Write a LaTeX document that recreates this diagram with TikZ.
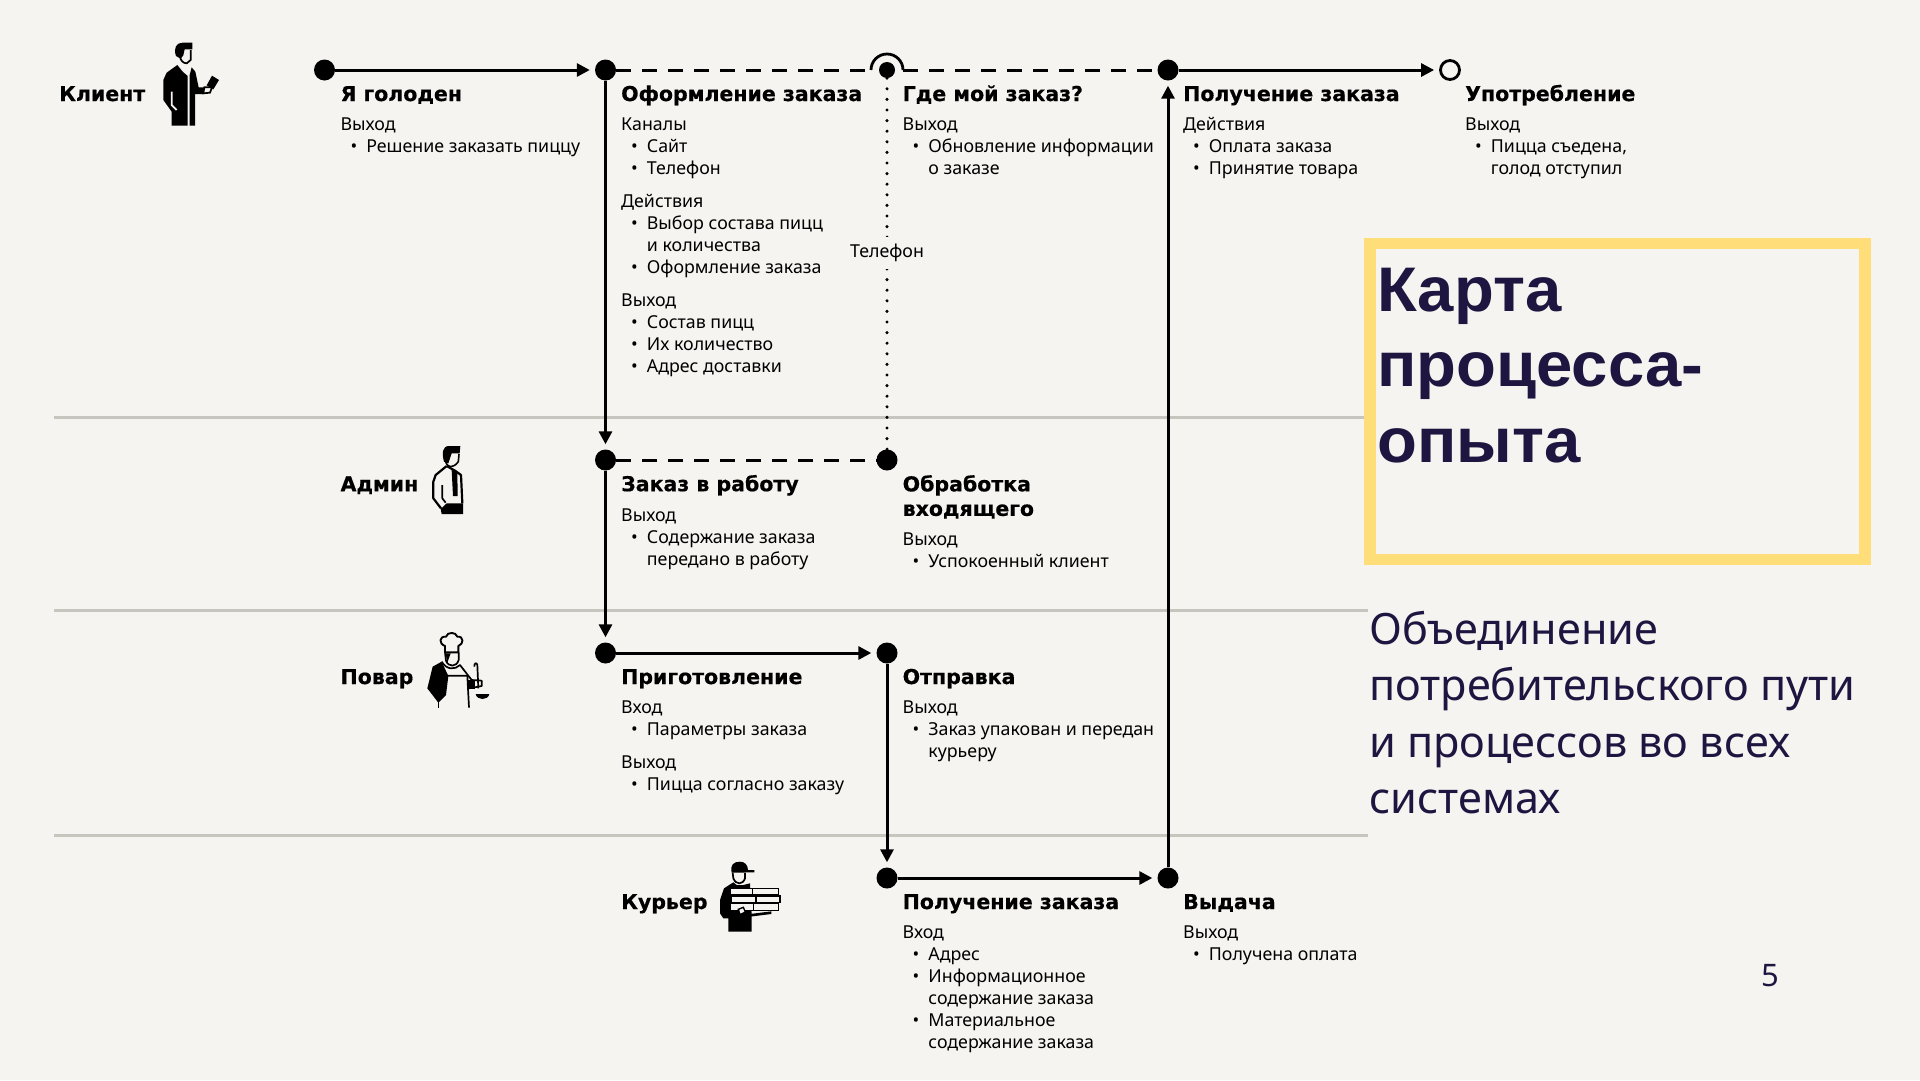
\documentclass[tikz,border=0pt]{standalone}
\usepackage{fontspec}
\usetikzlibrary{arrows.meta}
\setmainfont{Noto Sans}
\newfontfamily\headfam{DejaVu Sans}[BoldFeatures={FakeBold=0.5}]
\newfontfamily\titlefam{Liberation Sans}
\definecolor{bgc}{HTML}{F5F4F0}
\definecolor{navy}{HTML}{1E1640}
\definecolor{sepc}{HTML}{C6C5BE}
\definecolor{yel}{HTML}{FFDE7A}
\newcommand{\bl}[1]{\makebox[25.7pt][l]{\hspace{10pt}\textbullet}#1}
\newcommand{\blc}[1]{\hspace*{25.7pt}#1}
\newcommand{\gp}{\\[11pt]}
\newcommand{\ttwide}[1]{\scalebox{1.035}[1]{#1}}
\tikzset{
  x=1pt,y=-1pt,
  dotn/.style={circle,fill=black,minimum size=21pt,inner sep=0pt},
  opendot/.style={circle,draw=black,line width=2.8pt,fill=bgc,minimum size=19pt,inner sep=0pt},
  solidc/.style={line width=3pt,-{Triangle[length=13pt,width=13pt]},shorten >=5pt},
  dashc/.style={line width=3pt,dash pattern=on 15pt off 11pt},
  dotc/.style={line width=3.4pt,line cap=round,dash pattern=on 0pt off 10.6pt},
  sepl/.style={line width=3pt,draw=sepc},
  head/.style={inner sep=0pt,anchor=base west,align=left,font=\headfam\bfseries\fontsize{20.5}{24.5}\selectfont},
  body/.style={inner sep=0pt,anchor=north west,align=left,font=\fontsize{17.8}{22}\selectfont},
  ink/.style={fill=black,draw=none},
  lin/.style={draw=black,fill=none,line join=round},
}
\begin{document}
\begin{tikzpicture}
\useasboundingbox (0,0) rectangle (1920,1080);
\fill[bgc] (0,0) rectangle (1920,1080);
% separators
\coordinate (s1a) at (54,417.5); \coordinate (s1b) at (1366,417.5);
\coordinate (s2a) at (54,610.5); \coordinate (s2b) at (1368,610.5);
\coordinate (s3a) at (54,835.5); \coordinate (s3b) at (1368,835.5);
\draw[sepl] (s1a)--(s1b); \draw[sepl] (s2a)--(s2b); \draw[sepl] (s3a)--(s3b);
% yellow frame
\draw[yel,line width=11.5pt] (1370,243.5) rectangle (1865,559.5);
\node[inner sep=0pt,anchor=north west,align=left,text=navy,font=\titlefam\bfseries\fontsize{63}{75.5}\selectfont] (title) at (1377,258.2) {\strut\ttwide{Карта}\\\ttwide{процесса-}\\\ttwide{опыта}};
\node[inner sep=0pt,anchor=north west,align=left,text=navy,font=\fontsize{43.2}{56.5}\selectfont] (subt) at (1369,604.5) {\strut Объединение\\потребительского пути\\и процессов во всех\\системах};
\node[inner sep=0pt,anchor=center,text=navy,font=\fontsize{31}{36}\selectfont] (pnum) at (1770,976) {5};
% dots
\node[dotn] (a1) at (324.5,70) {};
\node[dotn] (a2) at (605.5,70) {};
\node[dotn,minimum size=16pt] (a3) at (887,70) {};
\node[dotn] (a4) at (1168,70) {};
\node[opendot] (a5) at (1450,70) {};
\node[dotn] (b2) at (605.5,460) {};
\node[dotn] (b3) at (887,460) {};
\node[dotn] (c2) at (605.5,653) {};
\node[dotn] (c3) at (887,653) {};
\node[dotn] (d3) at (887,878) {};
\node[dotn] (d4) at (1168,878) {};
\coordinate (jl) at (871,70); \coordinate (jr) at (903,70);
% connectors
\draw[solidc] (a1)--(a2);
\draw[dashc] (a2)--(jl);
\draw[line width=2.8pt] (jl) arc[start angle=180,end angle=360,radius=16];
\draw[dashc] (jr)--(a4);
\draw[solidc] (a4)--(a5);
\draw[solidc] (a2)--(b2);
\draw[solidc] (b2)--(c2);
\draw[dashc] (b2)--(b3);
\draw[dotc] (a3)--(b3);
\draw[solidc] (c2)--(c3);
\draw[solidc] (c3)--(d3);
\draw[solidc] (d3)--(d4);
\draw[solidc] (d4)--(a4);
\node[fill=bgc,inner xsep=3pt,inner ysep=7pt,font=\fontsize{17.8}{22}\selectfont] (tel) at (887,253) {Телефон};
% lane labels
\node[head] (l1) at (59,101) {Клиент};
\node[head] (l2) at (340.4,491.2) {Админ};
\node[head] (l3) at (340.4,684) {Повар};
\node[head] (l4) at (621,909) {Курьер};
% headings
\node[head] (h1) at (340.4,101) {Я голоден};
\node[head] (h2) at (621,101) {Оформление заказа};
\node[head] (h3) at (902.5,101) {Где мой заказ?};
\node[head] (h4) at (1183,101) {Получение заказа};
\node[head] (h5) at (1465,101) {Употребление};
\node[head] (h6) at (621,491.2) {Заказ в работу};
\node[head,anchor=north west] (h7) at (902.5,474) {\strut Обработка\\входящего};
\node[head] (h8) at (621,684) {Приготовление};
\node[head] (h9) at (902.5,684) {Отправка};
\node[head] (h10) at (902.5,909) {Получение заказа};
\node[head] (h11) at (1183,909) {Выдача};
% bodies
\node[body] (t1) at (340.4,115) {\strut Выход\\\bl{Решение заказать пиццу}};
\node[body] (t2) at (621,115) {\strut Каналы\\\bl{Сайт}\\\bl{Телефон}\gp Действия\\\bl{Выбор состава пицц}\\\blc{и количества}\\\bl{Оформление заказа}\gp Выход\\\bl{Состав пицц}\\\bl{Их количество}\\\bl{Адрес доставки}};
\node[body] (t3) at (902.5,115) {\strut Выход\\\bl{Обновление информации}\\\blc{о заказе}};
\node[body] (t4) at (1183,115) {\strut Действия\\\bl{Оплата заказа}\\\bl{Принятие товара}};
\node[body] (t5) at (1465,115) {\strut Выход\\\bl{Пицца съедена,}\\\blc{голод отступил}};
\node[body] (t6) at (621,506) {\strut Выход\\\bl{Содержание заказа}\\\blc{передано в работу}};
\node[body] (t7) at (902.5,530) {\strut Выход\\\bl{Успокоенный клиент}};
\node[body] (t8) at (621,698) {\strut Вход\\\bl{Параметры заказа}\gp Выход\\\bl{Пицца согласно заказу}};
\node[body] (t9) at (902.5,698) {\strut Выход\\\bl{Заказ упакован и передан}\\\blc{курьеру}};
\node[body] (t10) at (902.5,923) {\strut Вход\\\bl{Адрес}\\\bl{Информационное}\\\blc{содержание заказа}\\\bl{Материальное}\\\blc{содержание заказа}};
\node[body] (t11) at (1183,923) {\strut Выход\\\bl{Получена оплата}};
% client icon
\begin{scope}[shift={(150,30)},scale=1/3]
\fill[ink] (78,78) .. controls (70,55) and (78,38) .. (98,38) -- (127,38) -- (127,58) -- (104,58) -- (100,76) -- (92,86) -- cycle;
\draw[lin,line width=1.7pt] (90,80) .. controls (92,92) and (100,100) .. (110,100) -- (122,90) -- (122,60);
\fill[ink] (82,105) -- (50,128) -- (40,150) -- (40,210) -- (65,245) -- (65,287) -- (113,287) -- (113,138) -- (98,125) -- cycle;
\fill[ink] (119,135) -- (119,287) -- (135,287) -- (135,192) -- (162,192) -- (162,172) -- (146,172) -- (136,125) -- (125,112) -- cycle;
\draw[draw=bgc,line width=1.7pt] (65,185) -- (65,225) -- (80,240);
\fill[ink] (186,137) -- (207,150) -- (190,178) -- (170,166) -- cycle;
\draw[draw=black,line width=1.7pt,fill=bgc] (163,172) -- (186,172) -- (180,188) -- (160,190) -- cycle;
\end{scope}
% admin icon
\begin{scope}[shift={(425,440)},scale=1/3]
\fill[ink] (57,65) .. controls (50,40) and (52,18) .. (72,18) -- (106,18) -- (104,40) -- (80,40) -- (75,55) -- (70,70) -- cycle;
\draw[lin,line width=1.6pt] (62,65) .. controls (68,85) and (85,85) .. (100,65) -- (102,42);
\draw[lin,line width=2.2pt] (65,78) -- (32,105) -- (25,125) -- (25,175) -- (48,205);
\draw[lin,line width=2.2pt] (65,78) -- (90,92) -- (108,105) -- (112,190);
\fill[ink] (80,90) -- (97,96) -- (98,168) -- (84,168) -- cycle;
\draw[lin,line width=1.7pt] (52,135) -- (52,175) -- (62,188);
\fill[ink] (47,207) -- (65,190) -- (114,190) -- (114,222) -- (50,222) -- cycle;
\end{scope}
% chef icon
\begin{scope}[shift={(410,620)},scale=1/3]
\draw[lin,line width=1.9pt,fill=bgc] (105,78) .. controls (85,70) and (88,48) .. (108,50) .. controls (112,35) and (138,35) .. (142,50) .. controls (162,48) and (162,72) .. (145,78) -- (145,97) -- (105,97) -- cycle;
\draw[lin,line width=1.7pt] (105,97) -- (108,122) .. controls (115,142) and (140,142) .. (146,120) -- (146,97);
\fill[ink] (107,100) -- (122,100) -- (112,128) -- cycle;
\fill[ink] (95,125) -- (68,140) -- (52,205) -- (85,248) -- (108,225) -- (115,168) -- cycle;
\draw[lin,line width=1.4pt] (85,245) -- (85,263);
\draw[lin,line width=1.7pt] (95,125) .. controls (110,150) and (135,150) .. (150,135) -- (185,180) -- (215,182) -- (215,198) -- (178,205);
\draw[lin,line width=1.7pt] (112,167) -- (172,167) -- (177,263);
\draw[lin,line width=1.7pt] (205,205) -- (202,135) .. controls (200,125) and (192,130) .. (193,140);
\fill[ink] (197,222) -- (238,222) .. controls (235,242) and (200,242) .. (197,222) -- cycle;
\fill[ink] (172,180) -- (195,180) -- (195,208) -- (172,208) -- cycle;
\end{scope}
% courier icon
\begin{scope}[shift={(700,850)},scale=1/3]
\fill[ink] (95,68) .. controls (90,45) and (100,35) .. (120,35) .. controls (135,35) and (143,45) .. (144,60) -- (163,60) -- (163,67) -- cycle;
\draw[lin,line width=1.7pt] (98,68) -- (100,85) .. controls (108,105) and (128,105) .. (135,85) -- (135,68);
\fill[ink] (100,97) -- (72,115) -- (60,150) -- (60,190) -- (70,205) -- (85,205) -- (85,245) -- (155,245) -- (155,195) -- (150,100) -- (130,105) -- (110,105) -- cycle;
\foreach \yy/\xa/\xb/\xm in {115/90/235/158,138/95/240/168,161/90/235/160}{
 \draw[draw=black,line width=1.6pt,fill=bgc] (\xa,\yy) rectangle (\xb,\yy+20);
 \draw[draw=black,line width=1.6pt] (\xm,\yy)--(\xm,\yy+20);
}
\draw[draw=black,line width=1.4pt,fill=bgc] (115,178) -- (130,172) -- (136,186) -- (120,194) -- cycle;
\fill[ink] (150,192) -- (214,184) -- (214,192) -- (150,200) -- cycle;
\end{scope}
\end{tikzpicture}
\end{document}
